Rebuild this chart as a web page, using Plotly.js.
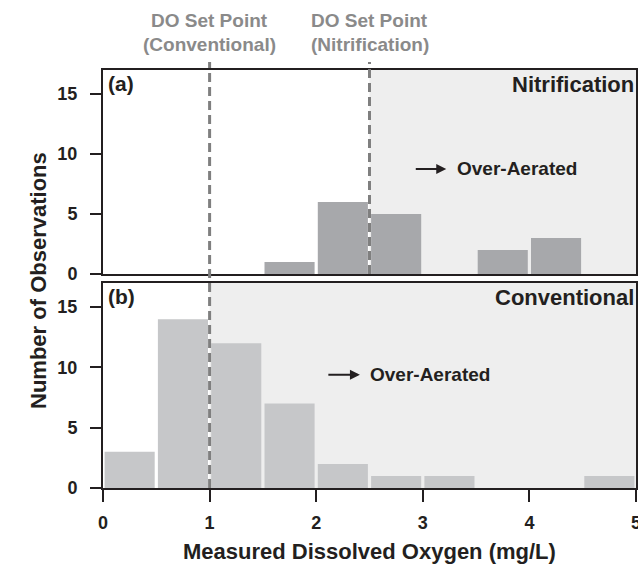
<!DOCTYPE html>
<html>
<head>
<meta charset="utf-8">
<script src="https://cdn.plot.ly/plotly-3.0.1.min.js"></script>
<style>html,body{margin:0;padding:0;background:#fff;}#chart{width:638px;height:565px;}</style>
</head>
<body>
<div id="chart"></div>
<script>
// Histogram bins (mg/L), left edges, bin width 0.5
const binLeft = [0, 0.5, 1, 1.5, 2, 2.5, 3, 3.5, 4, 4.5];
const binWidth = 0.5;
// Counts per bin
const nitrificationCounts = [0, 0, 0, 1, 6, 5, 0, 2, 3, 0];
const conventionalCounts = [3, 14, 12, 7, 2, 1, 1, 0, 0, 1];
// Set points
const setPointConventional = 1.0;
const setPointNitrification = 2.5;
const xTicks = [0, 1, 2, 3, 4, 5];
const yTicks = [0, 5, 10, 15];

const centers = binLeft.map(v => v + binWidth / 2);
const dark = '#231f20';
const FONT = 'Liberation Sans, Arial, Helvetica, sans-serif';

const traces = [
  {type: 'bar', x: centers, y: nitrificationCounts, xaxis: 'x2', yaxis: 'y2',
   marker: {color: '#a7a8ab', line: {width: 0}}, hoverinfo: 'skip'},
  {type: 'bar', x: centers, y: conventionalCounts, xaxis: 'x', yaxis: 'y',
   marker: {color: '#c6c7c9', line: {width: 0}}, hoverinfo: 'skip'}
];

const axisCommon = {
  showline: true, linecolor: dark, linewidth: 2, mirror: true,
  showgrid: false, zeroline: false
};
const tickFont = {family: FONT, size: 18, color: dark, weight: 'bold'};

const layout = {
  width: 638, height: 565,
  margin: {l: 103, r: 2, t: 70, b: 77},
  paper_bgcolor: '#ffffff', plot_bgcolor: 'rgba(0,0,0,0)',
  showlegend: false,
  bargap: 0.06,
  font: {family: FONT, color: dark, size: 15, weight: 'bold'},
  xaxis: Object.assign({}, axisCommon, {
    domain: [0, 1], range: [0, 5], anchor: 'y',
    tickvals: xTicks, ticks: 'outside', ticklen: 12, tickwidth: 2, tickcolor: dark,
    ticklabelstandoff: 5, ticklabeloverflow: 'allow',
    tickfont: tickFont
  }),
  yaxis: Object.assign({}, axisCommon, {
    domain: [0, 0.4904], range: [0, 17], anchor: 'x',
    tickvals: yTicks, ticks: 'outside', ticklen: 11, tickwidth: 2, tickcolor: dark,
    ticklabelstandoff: 9,
    tickfont: tickFont
  }),
  xaxis2: Object.assign({}, axisCommon, {
    domain: [0, 1], range: [0, 5], anchor: 'y2',
    showticklabels: false, ticks: ''
  }),
  yaxis2: Object.assign({}, axisCommon, {
    domain: [0.512, 1], range: [0, 17], anchor: 'x2',
    tickvals: yTicks, ticks: 'outside', ticklen: 11, tickwidth: 2, tickcolor: dark,
    ticklabelstandoff: 9,
    tickfont: tickFont
  }),
  shapes: [
    {type: 'rect', layer: 'below', xref: 'x2', yref: 'y2 domain',
     x0: setPointNitrification, x1: 5, y0: 0, y1: 1,
     fillcolor: '#eeeeee', line: {width: 0}},
    {type: 'rect', layer: 'below', xref: 'x', yref: 'y domain',
     x0: setPointConventional, x1: 5, y0: 0, y1: 1,
     fillcolor: '#eeeeee', line: {width: 0}},
    {type: 'line', layer: 'above', xref: 'x', yref: 'paper',
     x0: setPointConventional, x1: setPointConventional, y0: 0, y1: 1.019,
     line: {color: '#7f7f7f', width: 3, dash: '9px,5px'}},
    {type: 'line', layer: 'above', xref: 'x', yref: 'paper',
     x0: setPointNitrification, x1: setPointNitrification, y0: 0.512, y1: 1.019,
     line: {color: '#7f7f7f', width: 3, dash: '9px,5px'}}
  ],
  annotations: [
    {text: 'DO Set Point', xref: 'x', yref: 'paper', x: setPointConventional, y: 1.1196,
     showarrow: false, xanchor: 'center', yanchor: 'middle',
     font: {family: FONT, size: 19, color: '#8a8a8a', weight: 'bold'}},
    {text: '(Conventional)', xref: 'x', yref: 'paper', x: setPointConventional, y: 1.062,
     showarrow: false, xanchor: 'center', yanchor: 'middle',
     font: {family: FONT, size: 19, color: '#8a8a8a', weight: 'bold'}},
    {text: 'DO Set Point', xref: 'x', yref: 'paper', x: setPointNitrification, y: 1.1196,
     showarrow: false, xanchor: 'center', yanchor: 'middle',
     font: {family: FONT, size: 19, color: '#8a8a8a', weight: 'bold'}},
    {text: '(Nitrification)', xref: 'x', yref: 'paper', x: setPointNitrification, y: 1.062,
     showarrow: false, xanchor: 'center', yanchor: 'middle',
     font: {family: FONT, size: 19, color: '#8a8a8a', weight: 'bold'}},
    {text: '(a)', xref: 'x2 domain', yref: 'y2 domain', x: 0.006, y: 1.0,
     showarrow: false, xanchor: 'left', yanchor: 'top',
     font: {family: FONT, size: 21, color: dark, weight: 'bold'}},
    {text: '(b)', xref: 'x domain', yref: 'y domain', x: 0.006, y: 1.0,
     showarrow: false, xanchor: 'left', yanchor: 'top',
     font: {family: FONT, size: 21, color: dark, weight: 'bold'}},
    {text: 'Nitrification', xref: 'x2 domain', yref: 'y2 domain', x: 1.0, y: 1.0,
     showarrow: false, xanchor: 'right', yanchor: 'top',
     font: {family: FONT, size: 22, color: dark, weight: 'bold'}},
    {text: 'Conventional', xref: 'x domain', yref: 'y domain', x: 1.0, y: 1.0,
     showarrow: false, xanchor: 'right', yanchor: 'top',
     font: {family: FONT, size: 22, color: dark, weight: 'bold'}},
    // Over-aerated arrows
    {text: '', xref: 'x2', yref: 'y2', x: 3.22, y: 8.75, axref: 'x2', ayref: 'y2', ax: 2.92, ay: 8.75,
     showarrow: true, arrowhead: 2, arrowsize: 1, arrowwidth: 2, arrowcolor: dark},
    {text: 'Over-Aerated', xref: 'x2', yref: 'y2', x: 3.30, y: 8.75,
     showarrow: false, xanchor: 'left', yanchor: 'middle',
     font: {family: FONT, size: 19, color: dark, weight: 'bold'}},
    {text: '', xref: 'x', yref: 'y', x: 2.41, y: 9.4, axref: 'x', ayref: 'y', ax: 2.10, ay: 9.4,
     showarrow: true, arrowhead: 2, arrowsize: 1, arrowwidth: 2, arrowcolor: dark},
    {text: 'Over-Aerated', xref: 'x', yref: 'y', x: 2.49, y: 9.4,
     showarrow: false, xanchor: 'left', yanchor: 'middle',
     font: {family: FONT, size: 19, color: dark, weight: 'bold'}},
    // Axis titles
    {text: 'Number of Observations', xref: 'paper', yref: 'paper', x: -0.122, y: 0.4976,
     showarrow: false, textangle: -90, xanchor: 'center', yanchor: 'middle',
     font: {family: FONT, size: 22, color: dark, weight: 'bold'}},
    {text: 'Measured Dissolved Oxygen (mg/L)', xref: 'paper', yref: 'paper', x: 0.5, y: -0.153,
     showarrow: false, xanchor: 'center', yanchor: 'middle',
     font: {family: FONT, size: 22, color: dark, weight: 'bold'}}
  ]
};

Plotly.newPlot('chart', traces, layout, {staticPlot: true, displayModeBar: false});
</script>
</body>
</html>
